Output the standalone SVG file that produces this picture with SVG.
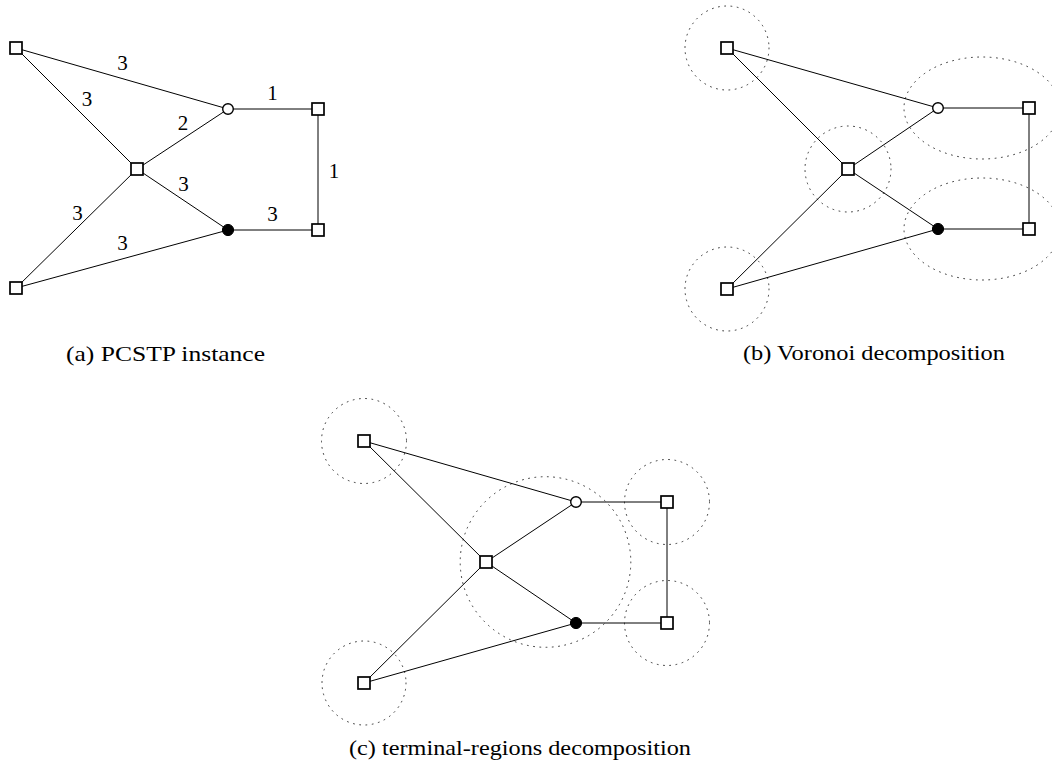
<svg xmlns="http://www.w3.org/2000/svg" width="1052" height="762" viewBox="0 0 1052 762">
<style>
.edge{stroke:#000;stroke-width:1;fill:none}
.sq{fill:#fff;stroke:#000;stroke-width:1.7}
.oc{fill:#fff;stroke:#000;stroke-width:1.4}
.fc{fill:#000;stroke:#000;stroke-width:1}
.reg{fill:none;stroke:#333;stroke-width:1;stroke-dasharray:0.9 5.4;stroke-linecap:round}
.lbl{font-family:"Liberation Serif","Times New Roman",serif;font-size:21px;text-anchor:middle;fill:#000}
.cap{font-family:"Liberation Serif","Times New Roman",serif;font-size:21px;fill:#000}
</style>
<rect width="1052" height="762" fill="#fff"/>

<!-- Panel (a) -->
<g id="panel-a">
  <g id="a-edges">
    <line class="edge" x1="16" y1="48" x2="228" y2="109"/>
    <line class="edge" x1="16" y1="48" x2="137" y2="169"/>
    <line class="edge" x1="137" y1="169" x2="228" y2="109"/>
    <line class="edge" x1="228" y1="109" x2="318" y2="109"/>
    <line class="edge" x1="318" y1="109" x2="318" y2="230"/>
    <line class="edge" x1="137" y1="169" x2="228" y2="230"/>
    <line class="edge" x1="228" y1="230" x2="318" y2="230"/>
    <line class="edge" x1="16" y1="288" x2="137" y2="169"/>
    <line class="edge" x1="16" y1="288" x2="228" y2="230"/>
  </g>
  <g id="a-labels">
    <text class="lbl" x="122.5" y="69.5">3</text>
    <text class="lbl" x="87" y="106">3</text>
    <text class="lbl" x="183" y="129.5">2</text>
    <text class="lbl" x="272.5" y="99.5">1</text>
    <text class="lbl" x="334" y="177.5">1</text>
    <text class="lbl" x="183.5" y="191">3</text>
    <text class="lbl" x="77.5" y="220">3</text>
    <text class="lbl" x="272.5" y="220.5">3</text>
    <text class="lbl" x="122.5" y="250">3</text>
  </g>
  <g id="a-n1"><rect class="sq" x="10" y="42" width="12" height="12"/></g>
  <g id="a-n2"><circle class="oc" cx="228" cy="109" r="5.3"/></g>
  <g id="a-n3"><rect class="sq" x="312" y="103" width="12" height="12"/></g>
  <g id="a-n4"><rect class="sq" x="131" y="163" width="12" height="12"/></g>
  <g id="a-n5"><circle class="fc" cx="228" cy="230" r="5.6"/></g>
  <g id="a-n6"><rect class="sq" x="312" y="224" width="12" height="12"/></g>
  <g id="a-n7"><rect class="sq" x="10" y="282" width="12" height="12"/></g>
  <text class="cap" x="66" y="361" textLength="199" lengthAdjust="spacingAndGlyphs">(a) PCSTP instance</text>
</g>

<!-- Panel (b) -->
<g id="panel-b">
  <g id="b-regions">
    <circle class="reg" cx="727" cy="48" r="42"/>
    <circle class="reg" cx="727" cy="289" r="42"/>
    <circle class="reg" cx="848" cy="169" r="43"/>
    <ellipse class="reg" cx="982" cy="108" rx="78" ry="51"/>
    <ellipse class="reg" cx="982" cy="229" rx="78" ry="51"/>
  </g>
  <g id="b-edges">
    <line class="edge" x1="727" y1="48" x2="938" y2="108"/>
    <line class="edge" x1="727" y1="48" x2="848" y2="169"/>
    <line class="edge" x1="848" y1="169" x2="938" y2="108"/>
    <line class="edge" x1="938" y1="108" x2="1029" y2="108"/>
    <line class="edge" x1="1029" y1="108" x2="1029" y2="229"/>
    <line class="edge" x1="848" y1="169" x2="938" y2="229"/>
    <line class="edge" x1="938" y1="229" x2="1029" y2="229"/>
    <line class="edge" x1="727" y1="289" x2="848" y2="169"/>
    <line class="edge" x1="727" y1="289" x2="938" y2="229"/>
  </g>
  <g id="b-n1"><rect class="sq" x="721" y="42" width="12" height="12"/></g>
  <g id="b-n2"><circle class="oc" cx="938" cy="108" r="5.3"/></g>
  <g id="b-n3"><rect class="sq" x="1023" y="102" width="12" height="12"/></g>
  <g id="b-n4"><rect class="sq" x="842" y="163" width="12" height="12"/></g>
  <g id="b-n5"><circle class="fc" cx="938" cy="229" r="5.6"/></g>
  <g id="b-n6"><rect class="sq" x="1023" y="223" width="12" height="12"/></g>
  <g id="b-n7"><rect class="sq" x="721" y="283" width="12" height="12"/></g>
  <text class="cap" x="743" y="360" textLength="262" lengthAdjust="spacingAndGlyphs">(b) Voronoi decomposition</text>
</g>

<!-- Panel (c) -->
<g id="panel-c">
  <g id="c-regions">
    <circle class="reg" cx="364" cy="441" r="42.5"/>
    <circle class="reg" cx="364" cy="683" r="42"/>
    <circle class="reg" cx="667" cy="502" r="42.5"/>
    <circle class="reg" cx="667" cy="623" r="42.5"/>
    <circle class="reg" cx="545.5" cy="562" r="85.3"/>
  </g>
  <g id="c-edges">
    <line class="edge" x1="364" y1="441" x2="576" y2="502"/>
    <line class="edge" x1="364" y1="441" x2="486" y2="562"/>
    <line class="edge" x1="486" y1="562" x2="576" y2="502"/>
    <line class="edge" x1="576" y1="502" x2="667" y2="502"/>
    <line class="edge" x1="667" y1="502" x2="667" y2="623"/>
    <line class="edge" x1="486" y1="562" x2="576" y2="623"/>
    <line class="edge" x1="576" y1="623" x2="667" y2="623"/>
    <line class="edge" x1="364" y1="683" x2="486" y2="562"/>
    <line class="edge" x1="364" y1="683" x2="576" y2="623"/>
  </g>
  <g id="c-n1"><rect class="sq" x="358" y="435" width="12" height="12"/></g>
  <g id="c-n2"><circle class="oc" cx="576" cy="502" r="5.3"/></g>
  <g id="c-n3"><rect class="sq" x="661" y="496" width="12" height="12"/></g>
  <g id="c-n4"><rect class="sq" x="480" y="556" width="12" height="12"/></g>
  <g id="c-n5"><circle class="fc" cx="576" cy="623" r="5.6"/></g>
  <g id="c-n6"><rect class="sq" x="661" y="617" width="12" height="12"/></g>
  <g id="c-n7"><rect class="sq" x="358" y="677" width="12" height="12"/></g>
  <text class="cap" x="349" y="755" textLength="342" lengthAdjust="spacingAndGlyphs">(c) terminal-regions decomposition</text>
</g>
</svg>
